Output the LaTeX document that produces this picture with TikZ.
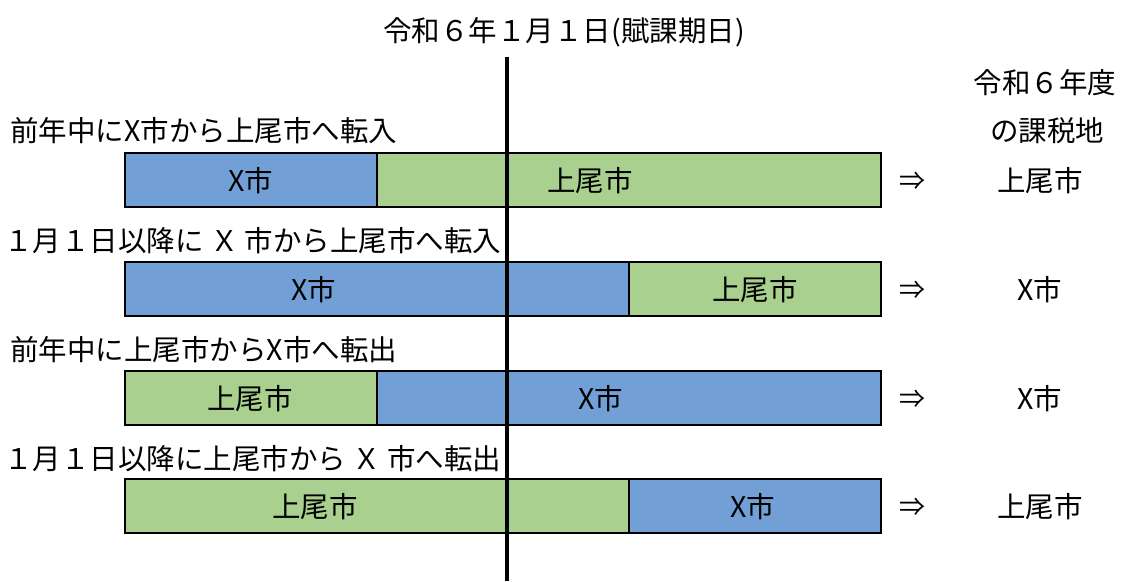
\documentclass[tikz,border=0pt]{standalone}
\usepackage{fontspec}
\setmainfont{Noto Sans CJK JP}
\definecolor{xblue}{RGB}{114,160,214}
\definecolor{agreen}{RGB}{169,208,142}
\begin{document}
\begin{tikzpicture}[x=1pt,y=-1pt,
  seg/.style={draw=black, line width=2.6pt},
  bseg/.style={seg, fill=xblue},
  gseg/.style={seg, fill=agreen},
  txt/.style={font=\fontsize{28.5}{32}\selectfont, inner sep=0pt, anchor=base},
  ltxt/.style={txt, anchor=base west},
  arr/.style={txt, font=\fontsize{26}{30}\selectfont},
]
\useasboundingbox (0,0) rectangle (1121,581);
% bar 1
\path[bseg] (125,153) rectangle (377,207);
\path[gseg] (377,153) rectangle (881,207);
% bar 2
\path[bseg] (125,262) rectangle (629,316);
\path[gseg] (629,262) rectangle (881,316);
% bar 3
\path[gseg] (125,371) rectangle (377,425);
\path[bseg] (377,371) rectangle (881,425);
% bar 4
\path[gseg] (125,479) rectangle (629,533);
\path[bseg] (629,479) rectangle (881,533);
% date line
\coordinate (ltop) at (507,57);
\coordinate (lbot) at (507,581);
\draw[line width=3.6pt] (ltop) -- (lbot);
% title
\node[txt] (title) at (564,41) {令和６年１月１日(賦課期日)};
\node[txt] (h1) at (1045,93) {令和６年度};
\node[txt] (h2) at (1047,141) {の課税地};
% labels
\node[ltxt] (l1) at (10,141) {前年中にX市から上尾市へ転入};
\node[ltxt] (l2) at (4,251) {１月１日以降に Ｘ 市から上尾市へ転入};
\node[ltxt] (l3) at (10,360) {前年中に上尾市からX市へ転出};
\node[ltxt] (l4) at (4,469) {１月１日以降に上尾市から Ｘ 市へ転出};
% bar texts
\node[txt] (t1a) at (251,191) {X市};
\node[txt] (t1b) at (590,191) {上尾市};
\node[txt] (t2a) at (314,300) {X市};
\node[txt] (t2b) at (755,300) {上尾市};
\node[txt] (t3a) at (250,409) {上尾市};
\node[txt] (t3b) at (601,409) {X市};
\node[txt] (t4a) at (315,517) {上尾市};
\node[txt] (t4b) at (753,517) {X市};
% arrows and results
\node[arr] (a1) at (912,190) {⇒};
\node[arr] (a2) at (912,299) {⇒};
\node[arr] (a3) at (912,408) {⇒};
\node[arr] (a4) at (912,516) {⇒};
\node[txt] (r1) at (1040,191) {上尾市};
\node[txt] (r2) at (1040,300) {X市};
\node[txt] (r3) at (1040,409) {X市};
\node[txt] (r4) at (1040,517) {上尾市};
\end{tikzpicture}
\end{document}
